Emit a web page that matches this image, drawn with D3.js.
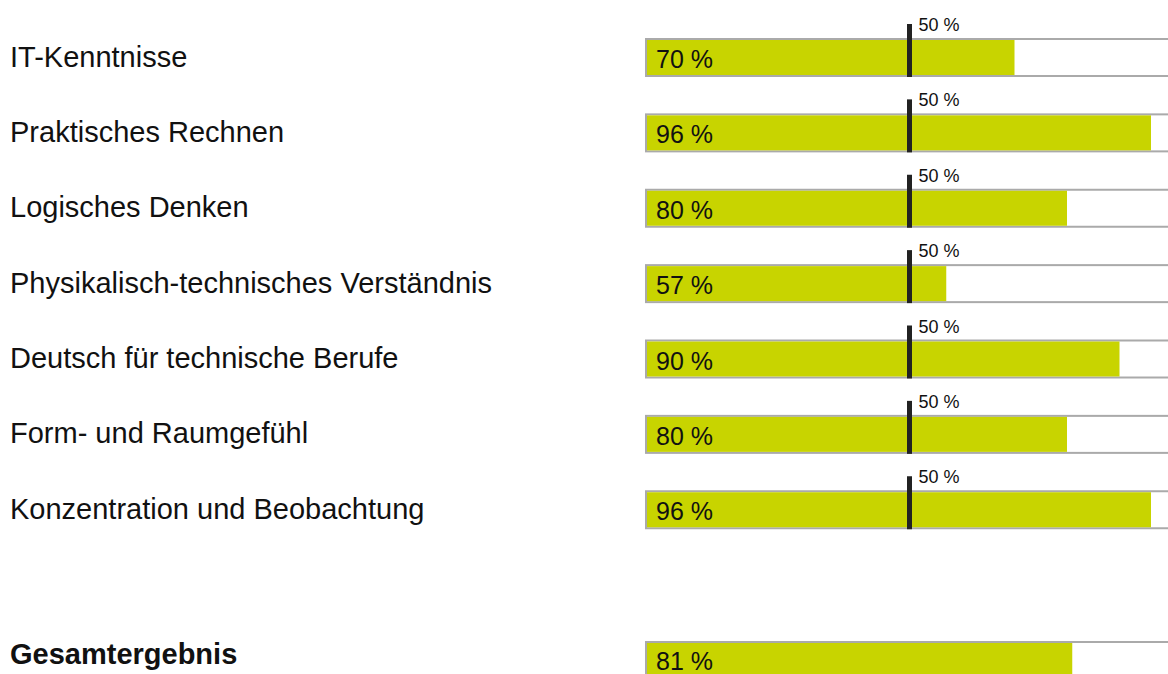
<!DOCTYPE html>
<html>
<head>
<meta charset="utf-8">
<script src="https://cdn.jsdelivr.net/npm/d3@7"></script>
<style>
  body { margin: 0; background: #fff; }
  svg { display: block; font-family: "Liberation Sans", Arial, sans-serif; }
</style>
</head>
<body>
<div id="chart"></div>
<script>
// skill profile bars with a 50 % reference marker
let categories = ['IT-Kenntnisse', 'Praktisches Rechnen', 'Logisches Denken',
  'Physikalisch-technisches Verständnis', 'Deutsch für technische Berufe',
  'Form- und Raumgefühl', 'Konzentration und Beobachtung']
let values = [70, 96, 80, 57, 90, 80, 96]
let markerValue = 50
let totalLabel = 'Gesamtergebnis'
let totalValue = 81

let width = 1168, height = 674
let green = '#c8d400'

let svg = d3.select('#chart').append('svg')
  .attr('width', width)
  .attr('height', height)

// x: percent -> pixels (track runs off the right edge like the original)
let x = d3.scaleLinear().domain([0, 100]).range([647, 1172])
// y: row index -> top of the track
let y = d3.scaleLinear().domain([0, 8]).range([39, 642])

let rows = categories.map((c, i) => ({ name: c, value: values[i], idx: i, total: false }))
rows.push({ name: totalLabel, value: totalValue, idx: 8, total: true })

let trackH = 37

let g = svg.selectAll('g.row')
  .data(rows)
  .enter()
  .append('g')
  .attr('class', 'row')
  .attr('transform', d => `translate(0,${y(d.idx)})`)

// left labels
g.append('text')
  .attr('x', 10)
  .attr('y', d => d.total ? 22 : 27.5)
  .attr('font-size', 29)
  .attr('font-weight', d => d.total ? 'bold' : 'normal')
  .attr('fill', '#111')
  .text(d => d.name)

// track (white with grey border)
g.append('rect')
  .attr('x', x(0) - 1)
  .attr('y', 0)
  .attr('width', x(100) - x(0) + 10)
  .attr('height', trackH)
  .attr('fill', '#fff')
  .attr('stroke', '#aaaaaa')
  .attr('stroke-width', 2)

// value bar
g.append('rect')
  .attr('x', x(0))
  .attr('y', 1)
  .attr('width', d => x(d.value) - x(0))
  .attr('height', trackH - 2)
  .attr('fill', green)

// value label
g.append('text')
  .attr('x', 656)
  .attr('y', d => d.total ? 28 : 29)
  .attr('font-size', 25)
  .attr('fill', '#111')
  .text(d => d.value + ' %')

// 50 % marker (not on the total row)
let m = g.filter(d => !d.total)
m.append('rect')
  .attr('x', x(markerValue) - 2.5)
  .attr('y', -15)
  .attr('width', 5)
  .attr('height', trackH + 16)
  .attr('fill', '#222')

m.append('text')
  .attr('x', x(markerValue) + 9)
  .attr('y', -8)
  .attr('font-size', 18)
  .attr('fill', '#111')
  .text(markerValue + ' %')
</script>
</body>
</html>
